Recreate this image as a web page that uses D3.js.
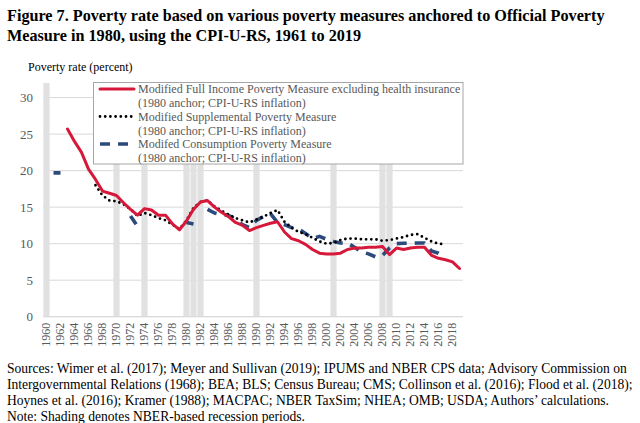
<!DOCTYPE html>
<html>
<head>
<meta charset="utf-8">
<script src="https://cdn.jsdelivr.net/npm/d3@7/dist/d3.min.js"></script>
<style>
  body { margin: 0; background: #fff; }
  svg text { font-family: "Liberation Serif", "Times New Roman", serif; }
</style>
</head>
<body>
<div id="chart"></div>
<script>
// years on the category axis
var years = d3.range(1960, 2020);
var tickYears = d3.range(1960, 2020, 2);
var yTicks = [0, 5, 10, 15, 20, 25, 30];
var recessionYears = [1960, 1970, 1974, 1980, 1981, 1982, 1990, 2001, 2008, 2009];

// Modified Full Income Poverty Measure excluding health insurance, 1963-2019
var fullIncomeYears = d3.range(1963, 2020);
var fullIncome = [25.7, 24.0, 22.5, 20.2, 18.8, 17.2, 16.9, 16.6, 15.6, 14.7,
                  13.9, 14.8, 14.6, 13.9, 13.9, 12.7, 11.9, 13.1, 14.7, 15.7,
                  15.9, 15.0, 14.3, 13.7, 12.9, 12.5, 11.8, 12.2, 12.5, 12.8,
                  13.0, 11.6, 10.7, 10.4, 9.9, 9.2, 8.7, 8.6, 8.6, 8.7,
                  9.2, 9.4, 9.4, 9.5, 9.5, 9.6, 8.5, 9.4, 9.2, 9.4,
                  9.5, 9.5, 8.4, 8.0, 7.8, 7.5, 6.6];

// Modified Supplemental Poverty Measure, 1967-2017
var supplementalYears = d3.range(1967, 2018);
var supplemental = [18.0, 16.6, 15.9, 15.8, 15.4, 14.7, 13.8, 14.2, 13.9, 13.5,
                    13.2, 12.6, 12.0, 13.2, 14.9, 15.7, 15.9, 15.1, 14.5, 14.0,
                    13.5, 13.2, 12.9, 13.3, 13.7, 14.2, 14.6, 13.0, 12.2, 11.6,
                    11.3, 10.8, 10.3, 10.0, 10.1, 10.5, 10.7, 10.7, 10.6, 10.6,
                    10.6, 10.4, 10.5, 10.7, 10.9, 11.2, 11.3, 10.8, 10.3, 10.0,
                    9.9];

// Modifed Consumption Poverty Measure (gaps where there is no survey)
var consumptionYears = [1961, 1962, 1972, 1973, 1980, 1981].concat(d3.range(1983, 2018));
var consumption = [19.7, 19.7, 13.8, 12.4, 12.9, 12.7,
                   14.7, 14.2, 14.0, 13.9, 13.3, 12.6, 12.2, 13.2, 13.7, 14.1,
                   12.9, 12.6, 12.2, 12.0, 11.4, 10.7, 11.0, 10.6, 10.3, 10.1,
                   10.1, 9.5, 8.9, 8.6, 8.2, 8.4, 9.4, 10.0, 10.05, 10.05,
                   10.1, 10.1, 9.0, 8.7, 8.2];

var legendLabels = ["Modified Full Income Poverty Measure excluding health insurance",
                    "Modified Supplemental Poverty Measure",
                    "Modifed Consumption Poverty Measure"];
var legendSub = "(1980 anchor; CPI-U-RS inflation)";

var titleLines = ["Figure 7. Poverty rate based on various poverty measures anchored to Official Poverty",
                  "Measure in 1980, using the CPI-U-RS, 1961 to 2019"];
var footLines = ["Sources: Wimer et al. (2017); Meyer and Sullivan (2019); IPUMS and NBER CPS data; Advisory Commission on",
                 "Intergovernmental Relations (1968); BEA; BLS; Census Bureau; CMS; Collinson et al. (2016); Flood et al. (2018);",
                 "Hoynes et al. (2016); Kramer (1988); MACPAC; NBER TaxSim; NHEA; OMB; USDA; Authors\u2019 calculations.",
                 "Note: Shading denotes NBER-based recession periods."];

var W = 640, H = 423;
var FONT = '"Liberation Serif", "Times New Roman", serif';
var svg = d3.select('#chart').append('svg').attr('width', W).attr('height', H)
    .style('display', 'block').attr('font-family', FONT);

/* scales */
var x = d3.scaleBand().domain(years).range([43, 463]).padding(0);
var y = d3.scaleLinear().domain([0, 32]).range([316.7, 83]);
var cx = function(yr){ return x(yr) + x.bandwidth() / 2; };

/* title */
svg.append('g').selectAll('text').data(titleLines).enter().append('text')
    .attr('x', 7).attr('y', function(d, i){ return 21 + i * 19.5; })
    .attr('font-size', 16.2).attr('font-weight', 'bold').attr('fill', '#000')
    .text(function(d){ return d; });

// y axis title
svg.append('text').attr('x', 28).attr('y', 71).attr('font-size', 12)
    .attr('fill', '#000').text('Poverty rate (percent)');

/* gridlines */
svg.append('g').selectAll('line').data(yTicks).enter().append('line')
    .attr('x1', 43).attr('x2', 463)
    .attr('y1', function(d){ return y(d); }).attr('y2', function(d){ return y(d); })
    .attr('stroke', '#d9d9d9').attr('stroke-width', 1);

/* recession shading */
svg.append('g').selectAll('rect').data(recessionYears).enter().append('rect')
    .attr('x', function(d){ return x(d) + 0.4; })
    .attr('width', x.bandwidth() - 0.8)
    .attr('y', y(32)).attr('height', y(0) - y(32))
    .attr('fill', '#e1e1e1');

/* axes */
var yAxis = svg.append('g').attr('transform', 'translate(43,0)')
    .call(d3.axisLeft(y).tickValues(yTicks).tickSize(0).tickPadding(10))
    .attr('font-family', FONT);
yAxis.select('.domain').remove();
yAxis.selectAll('text').attr('font-size', 13).attr('fill', '#595959');

svg.append('line').attr('x1', 43).attr('x2', 463).attr('y1', y(0)).attr('y2', y(0))
    .attr('stroke', '#d9d9d9');

var xAxis = svg.append('g').attr('transform', 'translate(0,' + y(0) + ')')
    .call(d3.axisBottom(x).tickValues(tickYears).tickSize(0))
    .attr('font-family', FONT);
xAxis.select('.domain').remove();
xAxis.selectAll('text')
    .attr('font-size', 12).attr('fill', '#595959')
    .attr('transform', 'rotate(-90)')
    .attr('text-anchor', 'end')
    .attr('x', -6).attr('y', -1).attr('dy', '0.35em');

/* series lines */
function series(yrs, vals){
    var byYear = {};
    yrs.forEach(function(yr, i){ byYear[yr] = vals[i]; });
    return years.map(function(yr){ return {year: yr, v: (yr in byYear) ? byYear[yr] : null}; });
}
var line = d3.line()
    .defined(function(d){ return d.v !== null; })
    .x(function(d){ return cx(d.year); })
    .y(function(d){ return y(d.v); });

var styles = [
    {color: '#d6183a', width: 3, dash: null, cap: 'round'},
    {color: '#000000', width: 2.8, dash: '0,5.2', cap: 'round'},
    {color: '#2c4a7c', width: 3.6, dash: '10,8', cap: 'butt'}
];
var allSeries = [series(fullIncomeYears, fullIncome),
                 series(supplementalYears, supplemental),
                 series(consumptionYears, consumption)];

// consumption first then the others on top
[2, 1, 0].forEach(function(k){
    svg.append('path').datum(allSeries[k])
        .attr('d', line)
        .attr('fill', 'none')
        .attr('stroke', styles[k].color)
        .attr('stroke-width', styles[k].width)
        .attr('stroke-dasharray', styles[k].dash)
        .attr('stroke-linecap', styles[k].cap)
        .attr('stroke-linejoin', 'round');
});

/* legend */
var lg = svg.append('g');
lg.append('rect').attr('x', 93.5).attr('y', 82.5).attr('width', 369.5).attr('height', 81.5)
    .attr('fill', '#fff').attr('stroke', '#a6a6a6').attr('stroke-width', 1);
legendLabels.forEach(function(lab, i){
    var ly = 89 + i * 27.5;
    lg.append('line').attr('x1', 100).attr('x2', 134).attr('y1', ly).attr('y2', ly)
        .attr('stroke', styles[i].color).attr('stroke-width', styles[i].width)
        .attr('stroke-dasharray', styles[i].dash).attr('stroke-linecap', styles[i].cap);
    lg.append('text').attr('x', 138).attr('y', ly + 4.2).attr('font-size', 12)
        .attr('fill', '#595959').text(lab);
    lg.append('text').attr('x', 138).attr('y', ly + 18).attr('font-size', 12)
        .attr('fill', '#595959').text(legendSub);
});

/* sources and note */
svg.append('g').selectAll('text').data(footLines).enter().append('text')
    .attr('x', 7).attr('y', function(d, i){ return 372.5 + i * 16.2; })
    .attr('font-size', 13.55).attr('fill', '#000')
    .text(function(d){ return d; });
</script>
</body>
</html>
